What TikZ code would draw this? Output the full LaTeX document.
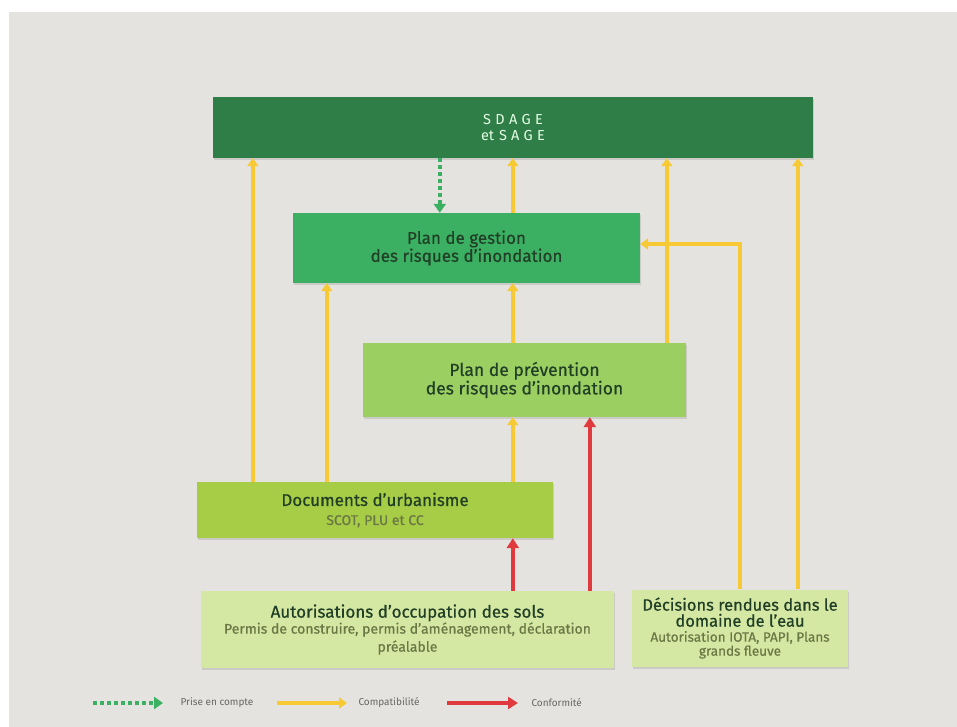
\documentclass[tikz,border=0pt]{standalone}
\usepackage{fontspec}
\setmainfont{Fira Sans}
\newfontfamily\spaced[LetterSpace=30]{Fira Sans}
\newfontfamily\heavy[FakeBold=0.6,Ligatures=TeX]{Fira Sans}
\usetikzlibrary{arrows.meta,shadows}

\definecolor{paper}{HTML}{E5E3DF}
\definecolor{sdagegreen}{HTML}{2F7D47}
\definecolor{pgrigreen}{HTML}{3BB062}
\definecolor{pprigreen}{HTML}{9BCF61}
\definecolor{docsgreen}{HTML}{A7CC45}
\definecolor{autgreen}{HTML}{D5E8A3}
\definecolor{darktext}{HTML}{213F26}
\definecolor{subtext}{HTML}{6A7845}
\definecolor{compatyellow}{HTML}{F6C935}
\definecolor{conformred}{HTML}{E03A3E}

\tikzset{
    box/.style={rectangle, inner sep=0pt, align=center, text=darktext,
        drop shadow={shadow xshift=1pt, shadow yshift=-2pt, opacity=0.25}},
    compat/.style={draw=compatyellow, line width=4pt,
        -{Triangle[width=11pt,length=8pt]}},
    conform/.style={draw=conformred, line width=4pt,
        -{Triangle[width=12pt,length=10pt]}},
    takeinto/.style={draw=pgrigreen, line width=4pt, dash pattern=on 4pt off 3pt,
        -{Triangle[width=12pt,length=9pt]}},
    legend/.style={anchor=west, font=\fontsize{10}{11}\selectfont, text=black!60},
}

\newcommand{\subline}[1]{{\fontsize{14}{14}\selectfont\color{subtext}#1}}

\begin{document}
\begin{tikzpicture}[x=1pt,y=-1pt]
    \useasboundingbox (0,0) rectangle (957,727);
    \fill[white] (0,0) rectangle (957,727);
    \fill[paper] (9,12) rectangle (957,727);

    % boxes
    \node[box, fill=sdagegreen, minimum width=600pt, minimum height=61pt,
        text=green!10, font=\fontsize{14.5}{16}\selectfont] (sdage) at (513,127.5)
        {{\spaced SDAGE}\\et\,\,{\spaced SAGE}};
    \node[box, fill=pgrigreen, minimum width=347pt, minimum height=70pt,
        font=\heavy\fontsize{17}{18}\selectfont] (pgri) at (466.5,248)
        {Plan de gestion\\des risques d'inondation};
    \node[box, fill=pprigreen, minimum width=323pt, minimum height=74pt,
        font=\heavy\fontsize{17.5}{18.5}\selectfont] (ppri) at (524.5,380)
        {Plan de prévention\\des risques d'inondation};
    \node[box, fill=docsgreen, minimum width=356pt, minimum height=56pt,
        font=\heavy\fontsize{17}{19}\selectfont] (docs) at (375,510)
        {Documents d'urbanisme\\\subline{SCOT, PLU et CC}};
    \node[box, fill=autgreen, minimum width=413pt, minimum height=77pt,
        font=\heavy\fontsize{17}{17}\selectfont] (aut) at (407.5,629.5)
        {Autorisations d'occupation des sols\\[-1pt]
         \subline{Permis de construire, permis d'aménagement, déclaration}\\[1pt]
         \subline{préalable}};
    \node[box, fill=autgreen, minimum width=216pt, minimum height=77pt,
        font=\heavy\fontsize{16.5}{16}\selectfont] (dec) at (740,628)
        {Décisions rendues dans le\\domaine de l'eau\\[-1pt]
         {\fontsize{13.5}{13.5}\selectfont\color{subtext}Autorisation IOTA, PAPI, Plans}\\[-2pt]
         {\fontsize{13.5}{13.5}\selectfont\color{subtext}grands fleuve}};

    % compatibility arrows
    \foreach \src/\dst/\dx in {docs/sdage/56, docs/pgri/130, docs/ppri/316,
                               ppri/pgri/150, pgri/sdage/220, ppri/sdage/304,
                               dec/sdage/166} {
        \coordinate (s) at ([xshift=\dx pt]\src.north west);
        \draw[compat] (s) -- (s |- \dst.south);
    }
    \coordinate (d1) at ([xshift=108pt]dec.north west);
    \coordinate (p1) at ([yshift=4pt]pgri.east);
    \draw[compat] (d1) |- (p1);

    % conformity arrows
    \coordinate (a1) at ([xshift=312pt]aut.north west);
    \coordinate (a2) at ([xshift=389pt]aut.north west);
    \draw[conform] (a1) -- (a1 |- docs.south);
    \draw[conform] (a2) -- (a2 |- ppri.south);

    % taken into account
    \coordinate (g1) at ([xshift=227pt]sdage.south west);
    \draw[takeinto] (g1) -- (g1 |- pgri.north);

    % legend
    \node[legend] (lg1) at (177,703) {Prise en compte};
    \node[legend] (lg2) at (355,703) {Compatibilité};
    \node[legend] (lg3) at (528,703) {Conformité};
    \coordinate (lga) at (93,703);
    \coordinate (lgb) at (277,703);
    \coordinate (lgc) at (447,703);
    \draw[takeinto] (lga) -- ([xshift=-14pt]lg1.west);
    \draw[compat] (lgb) -- ([xshift=-8pt]lg2.west);
    \draw[conform] (lgc) -- ([xshift=-10pt]lg3.west);
\end{tikzpicture}
\end{document}
